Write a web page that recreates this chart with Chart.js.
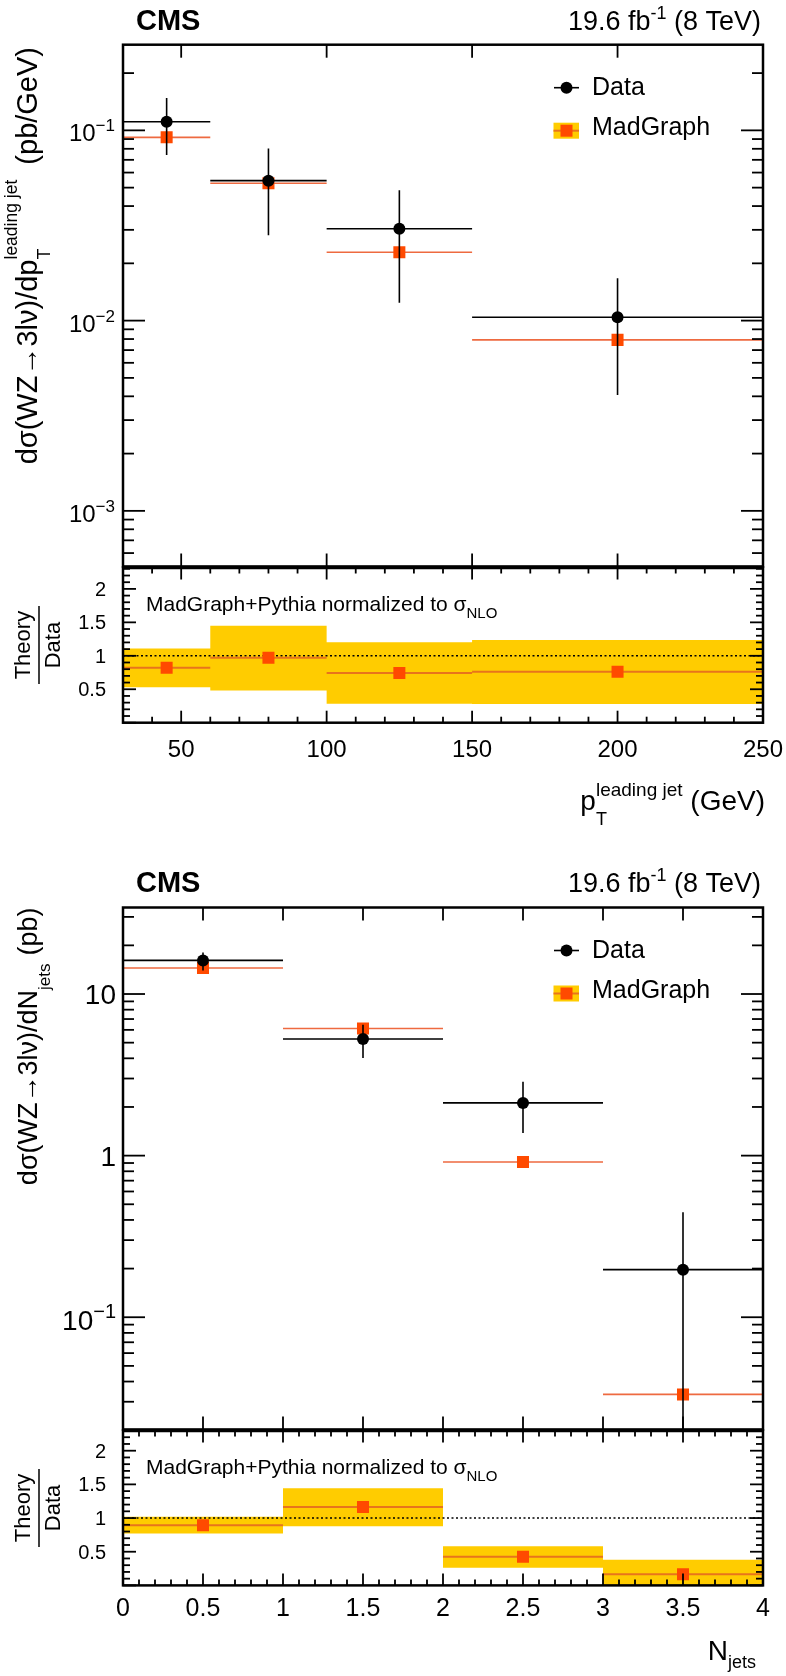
<!DOCTYPE html>
<html>
<head>
<meta charset="utf-8">
<script src="https://cdn.jsdelivr.net/npm/chart.js"></script>
<style>
html, body { margin: 0; padding: 0; background: #fff; }
body { width: 786px; height: 1676px; position: relative; overflow: hidden; }
canvas { position: absolute; left: 0; }
</style>
</head>
<body>
<canvas id="c1" width="786" height="575" style="top:0px"></canvas>
<canvas id="c2" width="786" height="281" style="top:559px"></canvas>
<canvas id="c3" width="786" height="598" style="top:840px"></canvas>
<canvas id="c4" width="786" height="254" style="top:1422px"></canvas>
<script>
// leading jet pT distribution
var ptEdges = [30, 60, 100, 150, 250];
var ptCenters = [45, 80, 125, 200];
var ptData = [0.111, 0.0544, 0.0304, 0.01042];
var ptDataUp = [0.148, 0.0804, 0.0484, 0.0167];
var ptDataDown = [0.0742, 0.0281, 0.01243, 0.00407];
var ptMadGraph = [0.0919, 0.0527, 0.02286, 0.00792];
var ptRatio = [0.822, 0.970, 0.743, 0.763];
var ptBandUp = [1.11, 1.451, 1.203, 1.238];
var ptBandDown = [0.531, 0.481, 0.283, 0.279];
var ptXTicks = [50, 100, 150, 200, 250];
var ptYExp = [-3, -2, -1];

// number of jets distribution
var njEdges = [0, 1, 2, 3, 4];
var njCenters = [0.5, 1.5, 2.5, 3.5];
var njData = [16.14, 5.27, 2.12, 0.197];
var njDataUp = [18.07, 6.46, 2.86, 0.446];
var njDataDown = [14.0, 4.02, 1.38, 0.005];
var njMadGraph = [14.48, 6.12, 0.914, 0.0333];
var njRatio = [0.892, 1.163, 0.424, 0.164];
var njBandUp = [1.02, 1.443, 0.582, 0.38];
var njBandDown = [0.77, 0.877, 0.262, 0];
var njXTicks = [0, 0.5, 1, 1.5, 2, 2.5, 3, 3.5, 4];
var njYExp = [-1, 0, 1];

var ratioTicks = [0.5, 1, 1.5, 2];

var FONT = '"Liberation Sans", Arial, Helvetica, sans-serif';
var MG = '#ff4a00';
var MGLINE = '#ee6a40';
var RLINE = '#e8741c';
var BAND = '#ffcc00';

function pts(xs, ys) {
  return xs.map(function (x, i) { return {x: x, y: ys[i]}; });
}
// horizontal bin lines, broken between bins
function segs(edges, vals) {
  var out = [];
  for (var i = 0; i < vals.length; i++) {
    out.push({x: edges[i], y: vals[i]}, {x: edges[i + 1], y: vals[i]}, {x: edges[i + 1], y: null});
  }
  return out;
}
function vbars(xs, lo, hi) {
  var out = [];
  for (var i = 0; i < xs.length; i++) {
    out.push({x: xs[i], y: lo[i]}, {x: xs[i], y: hi[i]}, {x: xs[i], y: null});
  }
  return out;
}
// closed outline of the uncertainty band
function band(edges, lo, hi) {
  var out = [];
  for (var i = 0; i < hi.length; i++) out.push({x: edges[i], y: hi[i]}, {x: edges[i + 1], y: hi[i]});
  for (var j = lo.length - 1; j >= 0; j--) out.push({x: edges[j + 1], y: lo[j]}, {x: edges[j], y: lo[j]});
  return out;
}

function mainSets(edges, centers, data, up, down, mg) {
  return [
    {data: pts(centers, data), showLine: false, pointStyle: 'circle', pointRadius: 6,
     pointBackgroundColor: '#000', pointBorderWidth: 0, order: 0},
    {data: segs(edges, data), borderColor: '#000', borderWidth: 1.6, pointRadius: 0, order: 1},
    {data: vbars(centers, down, up), borderColor: '#000', borderWidth: 1.6, pointRadius: 0, order: 1},
    {data: pts(centers, mg), showLine: false, pointStyle: 'rect', pointRadius: 8.5,
     pointBackgroundColor: MG, pointBorderWidth: 0, order: 2},
    {data: segs(edges, mg), borderColor: MGLINE, borderWidth: 1.6, pointRadius: 0, order: 3}
  ];
}
function ratioSets(edges, centers, r, lo, hi) {
  return [
    {data: pts(centers, r), showLine: false, pointStyle: 'rect', pointRadius: 8.5,
     pointBackgroundColor: MG, pointBorderWidth: 0, order: 0},
    {data: segs(edges, r), borderColor: RLINE, borderWidth: 2, pointRadius: 0, order: 1},
    {data: [{x: edges[0], y: 1}, {x: edges[edges.length - 1], y: 1}], borderColor: '#000',
     borderWidth: 1.4, borderDash: [2, 2.5], pointRadius: 0, order: 2},
    {data: band(edges, lo, hi), borderWidth: 0, borderColor: 'rgba(0,0,0,0)', backgroundColor: BAND,
     fill: 'shape', pointRadius: 0, order: 5}
  ];
}

// text helpers
function font(s, b) { return (b ? 'bold ' : '') + s + 'px ' + FONT; }
function tw(ctx, p) { ctx.font = font(p.s, p.b); return ctx.measureText(p.t).width; }
function pw(ctx, p) {
  if (p.stack) return Math.max.apply(null, p.stack.map(function (q) { return tw(ctx, q); }));
  return tw(ctx, p) + (p.gap || 0);
}
function rich(ctx, parts, x, y, align) {
  var total = parts.reduce(function (a, p) { return a + pw(ctx, p); }, 0);
  var cx = align === 'right' ? x - total : (align === 'center' ? x - total / 2 : x);
  ctx.textAlign = 'left';
  ctx.textBaseline = 'alphabetic';
  parts.forEach(function (p) {
    (p.stack || [p]).forEach(function (q) {
      ctx.font = font(q.s, q.b);
      ctx.fillText(q.t, cx, y + (q.dy || 0));
    });
    cx += pw(ctx, p);
  });
}
function vrich(ctx, parts, bx, top) {
  ctx.save();
  ctx.translate(bx, top);
  ctx.rotate(-Math.PI / 2);
  rich(ctx, parts, 0, 0, 'right');
  ctx.restore();
}
function line(ctx, x1, y1, x2, y2) {
  ctx.beginPath(); ctx.moveTo(x1, y1); ctx.lineTo(x2, y2); ctx.stroke();
}

function linTicks(min, max, minor, major, lenMinor, lenMajor, withMinor) {
  var out = [];
  for (var i = Math.ceil(min / minor - 1e-9); i * minor <= max + 1e-9; i++) {
    var v = i * minor;
    var isMaj = Math.abs(v / major - Math.round(v / major)) < 1e-6;
    if (!withMinor && !isMaj) continue;
    out.push({v: v, len: isMaj ? lenMajor : lenMinor});
  }
  return out;
}
function logTicks(min, max, lenMinor, lenMajor) {
  var out = [];
  for (var e = Math.floor(Math.log10(min)); e <= Math.ceil(Math.log10(max)); e++) {
    for (var k = 1; k <= 9; k++) {
      var v = k * Math.pow(10, e);
      if (v >= min && v <= max) out.push({v: v, len: k === 1 ? lenMajor : lenMinor});
    }
  }
  return out;
}

var decor = {};

var rootPad = {
  id: 'rootPad',
  afterDatasetsDraw: function (chart) {
    var d = decor[chart.canvas.id];
    var ctx = chart.ctx, a = chart.chartArea, sx = chart.scales.x, sy = chart.scales.y;
    ctx.save();
    ctx.strokeStyle = '#000';
    ctx.fillStyle = '#000';
    ctx.lineWidth = 1.8;
    d.xTicks(sx).forEach(function (t) {
      var px = sx.getPixelForValue(t.v);
      line(ctx, px, a.bottom, px, a.bottom - t.len);
      line(ctx, px, a.top, px, a.top + t.len);
    });
    d.yTicks(sy).forEach(function (t) {
      var py = sy.getPixelForValue(t.v);
      line(ctx, a.left, py, a.left + t.len, py);
      line(ctx, a.right, py, a.right - t.len, py);
    });
    ctx.lineWidth = 2.5;
    ctx.strokeRect(a.left, a.top, a.right - a.left, a.bottom - a.top);
    if (d.joinTop) { ctx.lineWidth = 3.5; line(ctx, a.left - 1, a.top, a.right + 1, a.top); }
    d.draw(ctx, a, sx, sy);
    ctx.restore();
  }
};

function makeChart(id, xr, yr, ylog, pad, datasets) {
  return new Chart(document.getElementById(id), {
    type: 'line',
    data: {datasets: datasets},
    options: {
      responsive: false,
      animation: false,
      events: [],
      layout: {padding: pad},
      plugins: {legend: {display: false}, tooltip: {enabled: false}},
      scales: {
        x: {type: 'linear', min: xr[0], max: xr[1], display: false},
        y: {type: ylog ? 'logarithmic' : 'linear', min: yr[0], max: yr[1], display: false}
      },
      elements: {line: {tension: 0}}
    },
    plugins: [rootPad]
  });
}

function header(ctx, base) {
  ctx.font = font(29, true);
  ctx.textAlign = 'left';
  ctx.fillText('CMS', 136, base);
  rich(ctx, [{t: '19.6 fb', s: 27}, {t: '-1', s: 18, dy: -11}, {t: ' (8 TeV)', s: 27}], 761, base, 'right');
}
function legend(ctx, top) {
  var xm = 566.5, xt = 592;
  ctx.strokeStyle = '#000';
  ctx.lineWidth = 1.6;
  line(ctx, 554, top + 43, 579, top + 43);
  ctx.beginPath(); ctx.arc(xm, top + 43, 6, 0, 2 * Math.PI); ctx.fill();
  ctx.font = font(25);
  ctx.textAlign = 'left';
  ctx.fillText('Data', xt, top + 50);
  ctx.fillStyle = BAND;
  ctx.fillRect(553.5, top + 78, 25.5, 16);
  ctx.strokeStyle = RLINE;
  ctx.lineWidth = 2;
  line(ctx, 553.5, top + 86, 579, top + 86);
  ctx.fillStyle = MG;
  ctx.fillRect(xm - 6, top + 80, 12, 12);
  ctx.fillStyle = '#000';
  ctx.fillText('MadGraph', xt, top + 90);
}
function logLabels(ctx, sy, exps, right, size) {
  exps.forEach(function (e) {
    var py = sy.getPixelForValue(Math.pow(10, e));
    if (e === 0) rich(ctx, [{t: '1', s: size}], right, py + 0.36 * size, 'right');
    else if (e === 1) rich(ctx, [{t: '10', s: size}], right, py + 0.36 * size, 'right');
    else rich(ctx, [{t: '10', s: size}, {t: '\u2212' + (-e), s: Math.round(size * 0.7), dy: -0.42 * size}],
              right, py + 0.46 * size, 'right');
  });
}
function ratioDecor(ctx, a, sx, sy, xTicks, xSize, xBase) {
  ratioTicks.forEach(function (v) {
    rich(ctx, [{t: String(v), s: 20}], 106, sy.getPixelForValue(v) + 7, 'right');
  });
  xTicks.forEach(function (v) {
    rich(ctx, [{t: String(v), s: xSize}], sx.getPixelForValue(v), a.bottom + xBase, 'center');
  });
  rich(ctx, [{t: 'MadGraph+Pythia normalized to \u03c3', s: 21}, {t: 'NLO', s: 15, dy: 7}], 146, a.top + 43, 'left');
  var cy = (a.top + a.bottom) / 2;
  ctx.save();
  ctx.translate(30, cy);
  ctx.rotate(-Math.PI / 2);
  ctx.font = font(22);
  ctx.textAlign = 'center';
  ctx.fillText('Theory', 0, 0);
  ctx.fillText('Data', 0, 30);
  ctx.lineWidth = 1.5;
  line(ctx, -39, 9, 39, 9);
  ctx.restore();
}

// top figure, main pad
decor.c1 = {
  xTicks: function (s) { return linTicks(s.min, s.max, 50, 50, 0, 13, false); },
  yTicks: function (s) { return logTicks(s.min, s.max, 11, 22); },
  draw: function (ctx, a, sx, sy) {
    header(ctx, 30);
    logLabels(ctx, sy, ptYExp, 115, 24);
    vrich(ctx, [{t: 'd\u03c3(WZ\u21923l\u03bd)/dp', s: 29},
                {stack: [{t: 'T', s: 18, dy: 13}, {t: 'leading jet', s: 17.5, dy: -20}]},
                {t: ' ', s: 29, gap: 7}, {t: '(pb/GeV)', s: 29}], 37, 47);
    legend(ctx, a.top);
  }
};
// top figure, ratio pad
decor.c2 = {
  joinTop: true,
  xTicks: function (s) { return linTicks(s.min, s.max, 10, 50, 6, 12, true); },
  yTicks: function (s) { return linTicks(s.min, s.max, 0.1, 0.5, 7, 13, true); },
  draw: function (ctx, a, sx, sy) {
    ratioDecor(ctx, a, sx, sy, ptXTicks, 24, 34);
    rich(ctx, [{t: 'p', s: 28}, {stack: [{t: 'T', s: 18, dy: 15}, {t: 'leading jet', s: 19, dy: -14}]},
               {t: ' (GeV)', s: 28}], 765, a.bottom + 87, 'right');
  }
};
// bottom figure, main pad
decor.c3 = {
  xTicks: function (s) { return linTicks(s.min, s.max, 0.5, 0.5, 0, 13, false); },
  yTicks: function (s) { return logTicks(s.min, s.max, 11, 22); },
  draw: function (ctx, a, sx, sy) {
    header(ctx, a.top - 16);
    logLabels(ctx, sy, njYExp, 116, 28);
    vrich(ctx, [{t: 'd\u03c3(WZ\u21923l\u03bd)/dN', s: 27}, {t: 'jets', s: 17, dy: 13, gap: 8},
                {t: '(pb)', s: 27}], 37, a.top);
    legend(ctx, a.top);
  }
};
// bottom figure, ratio pad
decor.c4 = {
  joinTop: true,
  xTicks: function (s) { return linTicks(s.min, s.max, 0.1, 0.5, 6, 12, true); },
  yTicks: function (s) { return linTicks(s.min, s.max, 0.1, 0.5, 7, 13, true); },
  draw: function (ctx, a, sx, sy) {
    ratioDecor(ctx, a, sx, sy, njXTicks, 25, 31);
    rich(ctx, [{t: 'N', s: 28}, {t: 'jets', s: 18, dy: 8}], 756, a.bottom + 75, 'right');
  }
};

makeChart('c1', [ptEdges[0], ptEdges[4]], [5.1e-4, 0.282], true,
  {top: 44.7, left: 123, right: 23, bottom: 8},
  mainSets(ptEdges, ptCenters, ptData, ptDataUp, ptDataDown, ptMadGraph));
makeChart('c2', [ptEdges[0], ptEdges[4]], [0, 2.32], false,
  {top: 8, left: 123, right: 23, bottom: 117.3},
  ratioSets(ptEdges, ptCenters, ptRatio, ptBandDown, ptBandUp));
makeChart('c3', [njEdges[0], njEdges[4]], [0.0202, 34.3], true,
  {top: 67.5, left: 123, right: 23, bottom: 8},
  mainSets(njEdges, njCenters, njData, njDataUp, njDataDown, njMadGraph));
makeChart('c4', [njEdges[0], njEdges[4]], [0, 2.3], false,
  {top: 8, left: 123, right: 23, bottom: 90.6},
  ratioSets(njEdges, njCenters, njRatio, njBandDown, njBandUp));
</script>
</body>
</html>
